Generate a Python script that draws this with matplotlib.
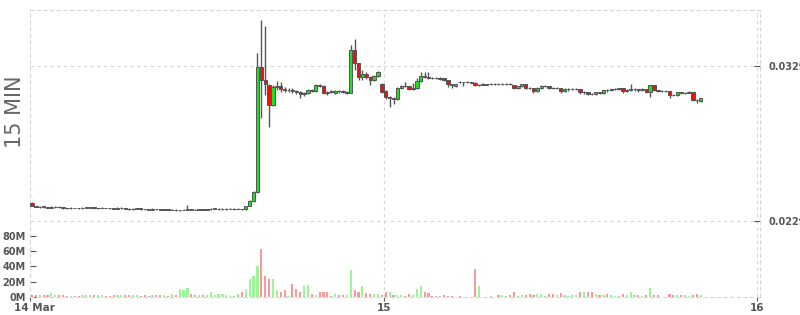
import matplotlib
matplotlib.use("Agg")
import matplotlib.pyplot as plt
from matplotlib.transforms import ScaledTranslation
import numpy as np

# 15 minute candles, first one starts 14 Mar ~01:15 (index = candle number)
opens = [
    0.02406, 0.02384, 0.02378, 0.02386, 0.02380, 0.02376, 0.02379, 0.02382, 0.02380, 0.02375,
    0.02373, 0.02375, 0.02374, 0.02371, 0.02375, 0.02377, 0.02378, 0.02373, 0.02374, 0.02376,
    0.02374, 0.02373, 0.02368, 0.02371, 0.02374, 0.02369, 0.02365, 0.02369, 0.02371,
    0.02368, 0.02366, 0.02364, 0.02367, 0.02365, 0.02363, 0.02365, 0.02362, 0.02364, 0.02360,
    0.02361, 0.02362, 0.02366, 0.02364, 0.02362, 0.02366, 0.02364, 0.02366, 0.02369, 0.02368,
    0.02367, 0.02367, 0.02368, 0.02369, 0.02367, 0.02369, 0.02366, 0.02387, 0.02419, 0.02477,
    0.03284, 0.03200, 0.03167, 0.03038, 0.03154, 0.03161, 0.03141, 0.03135, 0.03138, 0.03129,
    0.03122, 0.03109, 0.03116, 0.03135, 0.03129, 0.03167, 0.03161, 0.03122, 0.03129,
    0.03118, 0.03129, 0.03129, 0.03116, 0.03116, 0.03393, 0.03309, 0.03219, 0.03238, 0.03219,
    0.03200, 0.03225, 0.03174, 0.03129, 0.03083, 0.03083, 0.03077, 0.03148, 0.03162, 0.03161,
    0.03141, 0.03148, 0.03193, 0.03225, 0.03219, 0.03213, 0.03213, 0.03206, 0.03212, 0.03200,
    0.03174, 0.03161, 0.03188, 0.03184, 0.03186, 0.03188, 0.03183, 0.03167, 0.03169,
    0.03170, 0.03171, 0.03173, 0.03175, 0.03173, 0.03174, 0.03176, 0.03167, 0.03148, 0.03161,
    0.03174, 0.03149, 0.03148, 0.03129, 0.03148, 0.03160, 0.03161, 0.03149, 0.03147, 0.03148,
    0.03129, 0.03140, 0.03141, 0.03141, 0.03141, 0.03121, 0.03122, 0.03112, 0.03109,
    0.03122, 0.03116, 0.03135, 0.03132, 0.03140, 0.03142, 0.03148, 0.03129, 0.03135, 0.03140,
    0.03141, 0.03135, 0.03141, 0.03122, 0.03167, 0.03135, 0.03128, 0.03128, 0.03129, 0.03104,
    0.03103, 0.03122, 0.03116, 0.03119, 0.03122, 0.03071, 0.03064,
]
highs = [
    0.02410, 0.02390, 0.02388, 0.02390, 0.02383, 0.02386, 0.02384, 0.02384, 0.02382, 0.02377,
    0.02378, 0.02377, 0.02376, 0.02378, 0.02382, 0.02381, 0.02380, 0.02377, 0.02378, 0.02377,
    0.02376, 0.02376, 0.02380, 0.02378, 0.02376, 0.02371, 0.02371, 0.02373, 0.02372,
    0.02370, 0.02367, 0.02371, 0.02369, 0.02366, 0.02368, 0.02366, 0.02367, 0.02365, 0.02364,
    0.02366, 0.02393, 0.02369, 0.02366, 0.02368, 0.02368, 0.02369, 0.02376, 0.02375, 0.02373,
    0.02372, 0.02371, 0.02371, 0.02371, 0.02372, 0.02370, 0.02390, 0.02425, 0.02485, 0.03374,
    0.03587, 0.03548, 0.03174, 0.03167, 0.03193, 0.03187, 0.03154, 0.03148, 0.03148, 0.03135,
    0.03129, 0.03122, 0.03141, 0.03141, 0.03174, 0.03174, 0.03167, 0.03129, 0.03135,
    0.03135, 0.03135, 0.03135, 0.03129, 0.03425, 0.03464, 0.03309, 0.03264, 0.03251, 0.03225,
    0.03231, 0.03258, 0.03180, 0.03135, 0.03096, 0.03090, 0.03154, 0.03167, 0.03187, 0.03164,
    0.03180, 0.03212, 0.03251, 0.03251, 0.03251, 0.03219, 0.03219, 0.03216, 0.03214, 0.03202,
    0.03176, 0.03176, 0.03193, 0.03190, 0.03193, 0.03190, 0.03190, 0.03176, 0.03180,
    0.03176, 0.03180, 0.03180, 0.03178, 0.03180, 0.03182, 0.03180, 0.03170, 0.03164, 0.03176,
    0.03176, 0.03154, 0.03150, 0.03154, 0.03167, 0.03167, 0.03163, 0.03154, 0.03154, 0.03150,
    0.03148, 0.03146, 0.03148, 0.03148, 0.03143, 0.03129, 0.03124, 0.03116, 0.03124,
    0.03124, 0.03137, 0.03141, 0.03144, 0.03146, 0.03150, 0.03150, 0.03141, 0.03174, 0.03146,
    0.03143, 0.03146, 0.03143, 0.03170, 0.03170, 0.03137, 0.03135, 0.03133, 0.03131, 0.03109,
    0.03124, 0.03124, 0.03122, 0.03129, 0.03124, 0.03077, 0.03086,
]
lows = [
    0.02385, 0.02378, 0.02374, 0.02376, 0.02372, 0.02374, 0.02376, 0.02374, 0.02370, 0.02368,
    0.02370, 0.02371, 0.02369, 0.02368, 0.02373, 0.02372, 0.02370, 0.02366, 0.02371, 0.02371,
    0.02369, 0.02366, 0.02366, 0.02369, 0.02365, 0.02360, 0.02362, 0.02365, 0.02362,
    0.02363, 0.02361, 0.02362, 0.02360, 0.02359, 0.02361, 0.02359, 0.02360, 0.02357, 0.02357,
    0.02358, 0.02360, 0.02360, 0.02359, 0.02360, 0.02361, 0.02362, 0.02364, 0.02366, 0.02364,
    0.02364, 0.02364, 0.02366, 0.02362, 0.02365, 0.02363, 0.02364, 0.02385, 0.02415, 0.02470,
    0.02954, 0.03103, 0.02896, 0.03032, 0.03135, 0.03122, 0.03122, 0.03122, 0.03116, 0.03109,
    0.03083, 0.03096, 0.03109, 0.03122, 0.03122, 0.03154, 0.03109, 0.03103, 0.03116,
    0.03109, 0.03116, 0.03116, 0.03109, 0.03116, 0.03264, 0.03200, 0.03200, 0.03206, 0.03167,
    0.03193, 0.03219, 0.03116, 0.03077, 0.03025, 0.03045, 0.03070, 0.03141, 0.03154, 0.03135,
    0.03135, 0.03141, 0.03187, 0.03212, 0.03206, 0.03206, 0.03206, 0.03200, 0.03193, 0.03154,
    0.03148, 0.03154, 0.03180, 0.03161, 0.03180, 0.03178, 0.03161, 0.03161, 0.03165,
    0.03167, 0.03167, 0.03170, 0.03170, 0.03170, 0.03170, 0.03167, 0.03141, 0.03141, 0.03154,
    0.03141, 0.03141, 0.03116, 0.03122, 0.03141, 0.03154, 0.03141, 0.03141, 0.03141, 0.03116,
    0.03122, 0.03129, 0.03135, 0.03135, 0.03109, 0.03109, 0.03103, 0.03103, 0.03103,
    0.03109, 0.03109, 0.03122, 0.03129, 0.03135, 0.03135, 0.03116, 0.03122, 0.03129, 0.03129,
    0.03122, 0.03129, 0.03116, 0.03090, 0.03129, 0.03122, 0.03122, 0.03124, 0.03083, 0.03096,
    0.03096, 0.03109, 0.03109, 0.03116, 0.03064, 0.03051, 0.03058,
]
closes = [
    0.02387, 0.02380, 0.02382, 0.02378, 0.02376, 0.02380, 0.02381, 0.02378, 0.02374, 0.02373,
    0.02375, 0.02373, 0.02372, 0.02376, 0.02378, 0.02379, 0.02373, 0.02375, 0.02376, 0.02374,
    0.02372, 0.02368, 0.02372, 0.02374, 0.02368, 0.02366, 0.02369, 0.02371, 0.02368,
    0.02366, 0.02364, 0.02367, 0.02365, 0.02363, 0.02365, 0.02362, 0.02364, 0.02360, 0.02362,
    0.02363, 0.02366, 0.02363, 0.02362, 0.02366, 0.02364, 0.02366, 0.02370, 0.02371, 0.02370,
    0.02369, 0.02369, 0.02369, 0.02367, 0.02369, 0.02366, 0.02387, 0.02419, 0.02477, 0.03284,
    0.03200, 0.03174, 0.03038, 0.03154, 0.03161, 0.03141, 0.03135, 0.03138, 0.03129, 0.03122,
    0.03109, 0.03116, 0.03135, 0.03129, 0.03167, 0.03161, 0.03116, 0.03116, 0.03122,
    0.03129, 0.03126, 0.03122, 0.03122, 0.03393, 0.03309, 0.03219, 0.03238, 0.03219, 0.03200,
    0.03225, 0.03251, 0.03122, 0.03090, 0.03090, 0.03077, 0.03148, 0.03161, 0.03160, 0.03141,
    0.03148, 0.03193, 0.03225, 0.03219, 0.03212, 0.03211, 0.03211, 0.03212, 0.03200, 0.03174,
    0.03167, 0.03174, 0.03184, 0.03187, 0.03188, 0.03183, 0.03167, 0.03170, 0.03171,
    0.03172, 0.03174, 0.03175, 0.03173, 0.03175, 0.03176, 0.03172, 0.03148, 0.03161, 0.03174,
    0.03148, 0.03147, 0.03129, 0.03148, 0.03161, 0.03162, 0.03148, 0.03147, 0.03149, 0.03129,
    0.03141, 0.03142, 0.03143, 0.03143, 0.03122, 0.03123, 0.03109, 0.03109, 0.03122,
    0.03116, 0.03135, 0.03132, 0.03141, 0.03142, 0.03148, 0.03129, 0.03135, 0.03141, 0.03142,
    0.03135, 0.03141, 0.03122, 0.03167, 0.03135, 0.03129, 0.03130, 0.03130, 0.03103, 0.03102,
    0.03122, 0.03116, 0.03119, 0.03122, 0.03070, 0.03068, 0.03083,
]
# volume in millions
volumes = [
    2, 2, 3, 2, 2, 5.5, 3, 2, 2, 1, 1, 1, 1, 2, 3, 3, 2, 2, 2, 1,
    1, 2, 2, 3, 2, 2, 2, 2, 1, 2, 1, 2, 2, 2, 2, 1, 4, 3, 10,
    9, 12, 4, 3, 2, 3, 2, 6, 3, 4, 4, 3, 1, 1, 4, 6, 11, 23, 27, 41,
    62, 27, 23, 23, 9, 7, 9, 1, 17, 10, 7, 14, 16, 4, 3, 7, 7, 6, 1,
    4, 2, 3, 3, 35, 9, 7, 15, 5, 4, 4, 4, 3, 7, 6, 2, 3, 2, 1, 4,
    3, 11, 15, 6, 5, 1, 1, 1, 3, 1.5, 1.5, 0.3, 1, 0.3, 0.3, 0.5, 36, 14, 0.5,
    0.5, 1.5, 0.5, 2.5, 2.5, 1.5, 2, 7, 1, 2, 3, 4, 3, 4, 4, 1, 4, 4, 3, 5,
    2, 1.5, 3, 3, 7, 7, 6, 6, 4, 3, 2, 4, 3, 1, 1, 4, 3, 7, 3,
    3, 1, 2, 12, 2, 3, 0.5, 0.3, 4, 3, 2, 3, 2, 1, 3, 4, 2,
]

# axis positions in candle units from the first candle
day_ticks = [0, 91, 187]
day_labels = ['14 Mar', '15', '16']
price_ticks = [0.0229, 0.0329]
vol_ticks = [0, 20, 40, 60, 80]

o = np.array(opens); h = np.array(highs); l = np.array(lows); c = np.array(closes)
v = np.array(volumes)
x = np.arange(len(o)) + 0.5
up = c >= o

grid_col = '#d6d6d6'
txt_col = '#555555'

fig = plt.figure(figsize=(8, 3.15), dpi=100)
rect = [30 / 800, 18 / 315, 730 / 800, 287 / 315]
ax_v = fig.add_axes(rect)
ax = fig.add_axes(rect, sharex=ax_v)
ax.patch.set_alpha(0)

# volume
ax_v.bar(x, v, width=0.55, color=np.where(up, '#9cf598', '#f99a9a'), linewidth=0)
ax_v.set_ylim(0, 374.5)
ax_v.set_yticks(vol_ticks)
ax_v.set_yticklabels([f'{t}M' for t in vol_ticks])
ax_v.tick_params(axis='y', direction='in', length=4, pad=3, colors=txt_col, labelsize=7)
ax_v.set_xticks(day_ticks)
ax_v.set_xticklabels(day_labels)
ax_v.tick_params(axis='x', direction='out', length=3, pad=1, colors=txt_col, labelsize=7.5)
for lab in ax_v.get_xticklabels() + ax_v.get_yticklabels():
    lab.set_fontweight('bold')
first = ax_v.get_xticklabels()[0]
first.set_transform(first.get_transform() + ScaledTranslation(4 / 100, 0, fig.dpi_scale_trans))
for s in ax_v.spines.values():
    s.set_visible(False)

# candles
ax.vlines(x, l, h, color='#555555', lw=1, zorder=2)
ax.bar(x, c - o, bottom=o, width=0.86, color=np.where(up, '#1ee01e', '#ee1010'),
       edgecolor='#555555', linewidth=0.7, zorder=3)
ax.set_xlim(0, 187.77)
ax.set_ylim(0.017997, 0.036513)
ax.yaxis.tick_right()
ax.set_yticks(price_ticks)
ax.set_yticklabels([f'{t:.4f}' for t in price_ticks])
ax.tick_params(axis='y', direction='in', length=4, pad=6, colors=txt_col, labelsize=7)
for lab in ax.get_yticklabels():
    lab.set_fontweight('bold')
ax.tick_params(axis='x', bottom=False, labelbottom=False)

for p in price_ticks:
    ax.axhline(p, color=grid_col, ls=(0, (3, 3)), lw=0.8, zorder=0)
for d in day_ticks[1:]:
    ax.axvline(d, color=grid_col, ls=(0, (3, 3)), lw=0.8, zorder=0)
for s in ax.spines.values():
    s.set_linestyle((0, (3, 3)))
    s.set_color(grid_col)
    s.set_linewidth(0.8)

fig.text(15 / 800, 1 - 112 / 315, '15 MIN', rotation=90, fontsize=15, color='#666666',
         ha='center', va='center')

fig.savefig('out.png', dpi=100)
